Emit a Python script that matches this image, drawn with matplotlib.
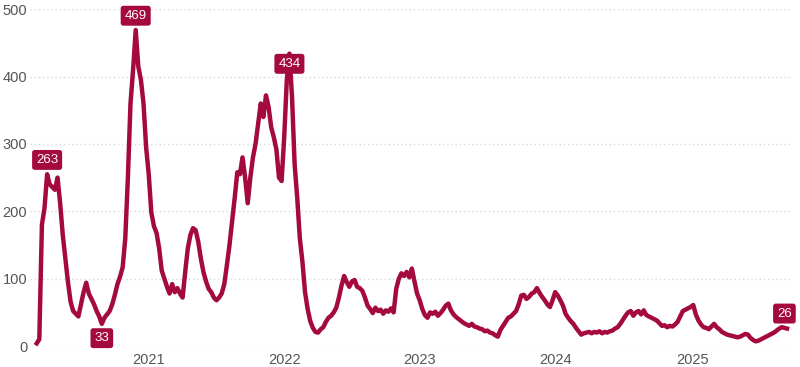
import pandas as pd
import matplotlib.pyplot as plt
import matplotlib.dates as mdates

# weekly values, first week starts 2020-03-07
start = "2020-03-07"
v2020 = [4, 10, 180, 205, 255, 240, 236, 232, 250, 212, 165, 130, 95, 66, 52, 48,
         44, 62, 80, 94, 78, 70, 62, 52, 44, 33, 42, 47, 52, 62, 76, 92, 103, 117,
         160, 250, 360, 410, 469, 415, 395, 360, 295]
v2021 = [255, 198, 178, 168, 145, 112, 100, 88, 78, 92, 80, 86, 78, 72, 110, 145,
         165, 175, 172, 155, 130, 110, 96, 85, 80, 72, 68, 72, 78, 92, 120, 150, 185,
         220, 258, 255, 280, 250, 212, 250, 280, 300, 330, 360, 340, 372, 355, 325,
         310, 292, 250, 245]
v2022 = [310, 395, 434, 370, 270, 220, 160, 125, 80, 55, 37, 27, 21, 20, 25, 28,
         36, 42, 45, 50, 57, 72, 90, 104, 95, 88, 96, 98, 88, 86, 82, 72, 60, 55, 49,
         57, 52, 54, 48, 53, 51, 56, 50, 85, 100, 108, 104, 110, 102, 115, 96, 78]
v2023 = [68, 55, 46, 42, 50, 48, 51, 45, 49, 54, 60, 63, 53, 47, 43, 40, 37, 34,
         32, 30, 33, 29, 28, 26, 25, 22, 23, 20, 19, 16, 14, 24, 30, 36, 42, 44, 48,
         52, 62, 75, 76, 70, 73, 78, 80, 86, 79, 73, 68, 62, 58, 68]
v2024 = [80, 75, 68, 60, 48, 42, 37, 33, 27, 22, 17, 19, 20, 21, 19, 21, 20, 22,
         19, 21, 20, 22, 23, 26, 28, 33, 39, 45, 50, 52, 45, 50, 52, 47, 53, 46, 44,
         42, 40, 38, 34, 30, 31, 28, 30, 29, 32, 36, 44, 52, 54, 56]
v2025 = [58, 61, 47, 38, 32, 28, 27, 25, 29, 33, 28, 25, 21, 19, 17, 16, 15, 14,
         13, 14, 16, 18, 17, 12, 9, 7, 8, 10, 12, 14, 16, 18, 20, 23, 26, 28, 27, 26]

values = v2020 + v2021 + v2022 + v2023 + v2024 + v2025
dates = pd.date_range(start, periods=len(values), freq="7D")

# labelled points: (index, text, offset in points)
labels = [(4, "263", 6), (25, "33", -6), (38, "469", 6), (97, "434", -3),
          (len(values) - 2, "26", 6)]

red = "#a50a3c"
plt.rcParams["font.family"] = ["Liberation Sans", "DejaVu Sans"]

fig = plt.figure(figsize=(8, 3.67), dpi=100)
ax = fig.add_axes([0.0375, 0.057, 0.95, 0.918])

ax.plot(dates, values, color=red, lw=3.2, solid_joinstyle="round", clip_on=False, zorder=3)

for i, txt, off in labels:
    ax.annotate(txt, (dates[i], values[i]), xytext=(0, off), textcoords="offset points",
                ha="center", va="bottom" if off > 0 else "top", color="white", fontsize=9.5,
                bbox=dict(boxstyle="round,pad=0.3,rounding_size=0.2", fc=red, ec="none"),
                zorder=5)

ax.set_ylim(0, 500)
ax.set_yticks([0, 100, 200, 300, 400, 500])
ax.set_xlim(pd.Timestamp("2020-02-18"), pd.Timestamp("2025-09-21"))
ax.xaxis.set_major_locator(mdates.YearLocator())
ax.xaxis.set_major_formatter(mdates.DateFormatter("%Y"))

ax.grid(axis="y", color="#d9d9d9", ls=(0, (1, 2)), lw=1)
ax.grid(axis="x", visible=False)
for s in ax.spines.values():
    s.set_visible(False)
ax.tick_params(length=0, labelsize=10.5, labelcolor="#555555")
ax.tick_params(axis="y", pad=2)
ax.tick_params(axis="x", pad=5)

fig.savefig("out.png", dpi=100)
